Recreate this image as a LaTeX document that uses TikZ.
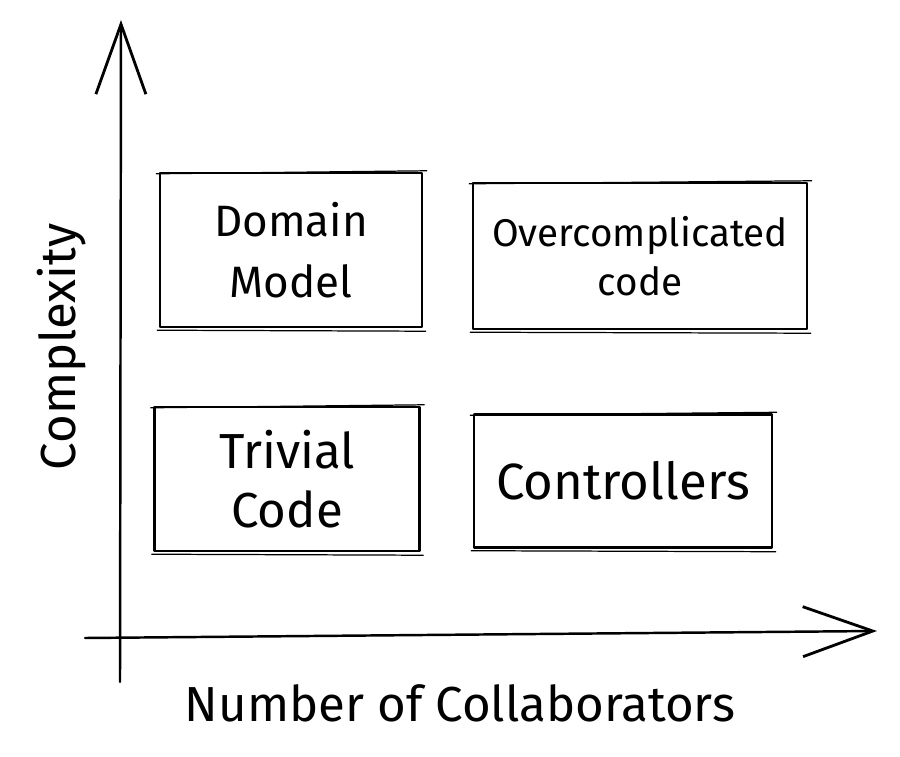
\documentclass[tikz,border=0pt]{standalone}
\usepackage{fontspec}
\setmainfont{Fira Sans}
\usetikzlibrary{arrows.meta}

\tikzset{
  sketch/.style={line width=1.4pt, line cap=round, line join=round},
  quad/.style={draw, sketch, inner sep=0pt, align=center},
  axislabel/.style={font=\fontsize{28}{34}\selectfont},
  barb/.style={-{Straight Barb[length=1.4cm,width=1cm,line width=1.6pt]}}
}

\begin{document}
\begin{tikzpicture}[x=0.02cm,y=-0.02cm]
    \useasboundingbox (0,0) rectangle (900,757);

    % axes
    \coordinate (yfoot) at (120,682);
    \coordinate (ytip) at (121,20);
    \coordinate (xfoot) at (85,638);
    \coordinate (xtip) at (877,631);
    \draw[sketch,barb] (yfoot) -- (ytip);
    \draw[sketch,barb] (xfoot) -- (xtip);

    % quadrants
    \node[quad, minimum width=5.24cm, minimum height=3.08cm,
      font=\fontsize{25}{35}\selectfont] (domain) at (291,250) {Domain\\Model};
    \node[quad, minimum width=6.68cm, minimum height=2.92cm,
      font=\fontsize{22}{28}\selectfont] (over) at (640,256) {Overcomplicated\\code};
    \node[quad, minimum width=5.3cm, minimum height=2.88cm,
      font=\fontsize{28}{34}\selectfont] (trivial) at (287,479) {Trivial\\Code};
    \node[quad, minimum width=5.96cm, minimum height=2.66cm,
      font=\fontsize{29}{34}\selectfont] (ctrl) at (623,481) {Controllers};

    % second strokes
    \foreach \n in {domain,over,trivial,ctrl}
    {
      \draw[line width=0.7pt] ([shift={(-3,2)}]\n.north west) -- ([shift={(4,-1)}]\n.north east);
      \draw[line width=0.7pt] ([shift={(-2,2)}]\n.south west) -- ([shift={(3,3)}]\n.south east);
    }

    % labels
    \node[axislabel, rotate=90] (ylabel) at (62,347) {Complexity};
    \node[axislabel] (xlabel) at (460,703) {Number of Collaborators};
\end{tikzpicture}
\end{document}
